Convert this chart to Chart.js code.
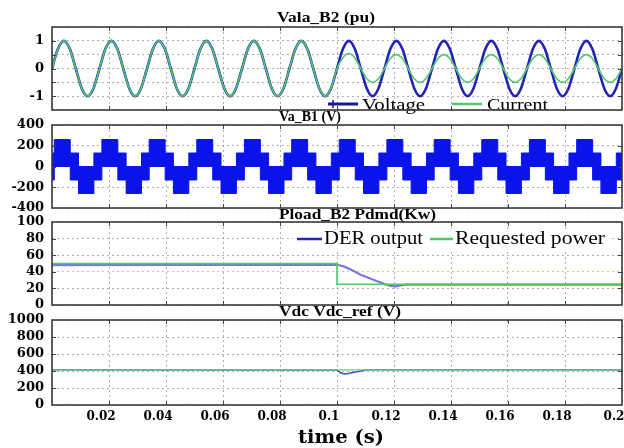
<!DOCTYPE html>
<html><head><meta charset="utf-8">
<script src="https://cdn.jsdelivr.net/npm/chart.js@4.4.1/dist/chart.umd.min.js"></script>
<style>
html,body{margin:0;padding:0;background:#fff;}
#wrap{position:relative;width:624px;height:448px;overflow:hidden;background:#fff;}
canvas{position:absolute;left:0;top:0;}
</style></head><body>
<div id="wrap">
<canvas id="c1" width="624" height="448"></canvas>
<canvas id="c2" width="624" height="448"></canvas>
<canvas id="c3" width="624" height="448"></canvas>
<canvas id="c4" width="624" height="448"></canvas>
</div>
<script>
// ---------------- DATA ----------------
const titles = ['Vala_B2 (pu)', 'Va_B1 (V)', 'Pload_B2 Pdmd(Kw)', 'Vdc Vdc_ref (V)'];
const xAxisTitle = 'time (s)';
const legend1 = ['Voltage', 'Current'];
const legend3 = ['DER output', 'Requested power'];
const panel1TickLabels = [-1, 0, 1];

// Panel 1: sample times (s) and per-unit values
const waveTime = [
  0,0.00208,0.00417,0.00625,0.00833,0.01042,0.0125,0.01458,
  0.01667,0.01875,0.02083,0.02292,0.025,0.02708,0.02917,0.03125,
  0.03333,0.03542,0.0375,0.03958,0.04167,0.04375,0.04583,0.04792,
  0.05,0.05208,0.05417,0.05625,0.05833,0.06042,0.0625,0.06458,
  0.06667,0.06875,0.07083,0.07292,0.075,0.07708,0.07917,0.08125,
  0.08333,0.08542,0.0875,0.08958,0.09167,0.09375,0.09583,0.09792,
  0.1,0.10208,0.10417,0.10625,0.10833,0.11042,0.1125,0.11458,
  0.11667,0.11875,0.12083,0.12292,0.125,0.12708,0.12917,0.13125,
  0.13333,0.13542,0.1375,0.13958,0.14167,0.14375,0.14583,0.14792,
  0.15,0.15208,0.15417,0.15625,0.15833,0.16042,0.1625,0.16458,
  0.16667,0.16875,0.17083,0.17292,0.175,0.17708,0.17917,0.18125,
  0.18333,0.18542,0.1875,0.18958,0.19167,0.19375,0.19583,0.19792,
  0.2];
const voltagePu = [
  0,0.71,1,0.71,0,-0.71,-1,-0.71,
  0,0.71,1,0.71,0,-0.71,-1,-0.71,
  0,0.71,1,0.71,0,-0.71,-1,-0.71,
  0,0.71,1,0.71,0,-0.71,-1,-0.71,
  0,0.71,1,0.71,0,-0.71,-1,-0.71,
  0,0.71,1,0.71,0,-0.71,-1,-0.71,
  0,0.71,1,0.71,0,-0.71,-1,-0.71,
  0,0.71,1,0.71,0,-0.71,-1,-0.71,
  0,0.71,1,0.71,0,-0.71,-1,-0.71,
  0,0.71,1,0.71,0,-0.71,-1,-0.71,
  0,0.71,1,0.71,0,-0.71,-1,-0.71,
  0,0.71,1,0.71,0,-0.71,-1,-0.71,
  0];
const currentPu = [
  0,0.71,1,0.71,0,-0.71,-1,-0.71,
  0,0.71,1,0.71,0,-0.71,-1,-0.71,
  0,0.71,1,0.71,0,-0.71,-1,-0.71,
  0,0.71,1,0.71,0,-0.71,-1,-0.71,
  0,0.71,1,0.71,0,-0.71,-1,-0.71,
  0,0.71,1,0.71,0,-0.71,-1,-0.71,
  0,0.39,0.54,0.38,0,-0.36,-0.5,-0.36,
  0,0.36,0.5,0.36,0,-0.36,-0.5,-0.36,
  0,0.36,0.5,0.36,0,-0.36,-0.5,-0.36,
  0,0.36,0.5,0.36,0,-0.36,-0.5,-0.36,
  0,0.36,0.5,0.36,0,-0.36,-0.5,-0.36,
  0,0.36,0.5,0.36,0,-0.36,-0.5,-0.36,
  0];

// Panel 2: step times (s) of the multilevel waveform band and its upper / lower levels (V)
// (each level holds from its time until the next time)
const vaTime = [0,
  0.0008,0.0064,0.0093,0.0147,
  0.0175,0.0231,0.0260,0.0314,
  0.0341,0.0397,0.0426,0.0480,
  0.0508,0.0564,0.0593,0.0647,
  0.0675,0.0731,0.0760,0.0814,
  0.0841,0.0897,0.0926,0.0980,
  0.1008,0.1064,0.1093,0.1147,
  0.1175,0.1231,0.1260,0.1314,
  0.1341,0.1397,0.1426,0.1480,
  0.1508,0.1564,0.1593,0.1647,
  0.1675,0.1731,0.1760,0.1814,
  0.1841,0.1897,0.1926,0.1980,
  0.2];
const vaUpper = [130,
  260,130,0,130, 260,130,0,130, 260,130,0,130, 260,130,0,130,
  260,130,0,130, 260,130,0,130, 260,130,0,130, 260,130,0,130,
  260,130,0,130, 260,130,0,130, 260,130,0,130, 260,130,0,130,
  130];
const vaLower = [-130,
  0,-130,-260,-130, 0,-130,-260,-130, 0,-130,-260,-130, 0,-130,-260,-130,
  0,-130,-260,-130, 0,-130,-260,-130, 0,-130,-260,-130, 0,-130,-260,-130,
  0,-130,-260,-130, 0,-130,-260,-130, 0,-130,-260,-130, 0,-130,-260,-130,
  -130];

// Panel 3: power (kW)
const derTime = [0, 0.1, 0.1024, 0.1055, 0.1083, 0.1112, 0.1141, 0.1165, 0.1188, 0.1206, 0.1222, 0.124, 0.2];
const derKw   = [48, 48.5, 46.5, 41.5, 36.5, 32.5, 28.5, 25.5, 23, 22.4, 23.5, 24.5, 24.5];
const reqTime = [0, 0.1, 0.1, 0.2];
const reqKw   = [50, 50, 25, 25];

// Panel 4: DC voltage (V)
const vdcTime = [0, 0.1, 0.1012, 0.1026, 0.104, 0.106, 0.108, 0.1097, 0.1105, 0.2];
const vdcV    = [414, 412, 380, 365, 370, 386, 398, 408, 414, 414];
const vrefTime = [0, 0.2];
const vrefV    = [414, 414];

// ---------------- STYLE ----------------
const GRID = 'rgba(110,110,110,0.55)';
const YELLOW_GRID = 'rgba(215,200,60,0.9)';
const TITLE_FONT = 'bold 14.5px "Liberation Serif"';
const LEGEND_FONT17 = '17px "Liberation Serif"';
const LEGEND_FONT18 = '18px "Liberation Serif"';

Chart.defaults.font.family = '"DejaVu Serif", serif';
Chart.defaults.font.weight = 'bold';
Chart.defaults.font.size = 13;
Chart.defaults.color = '#000';

const pts = (xs, ys) => xs.map((x, i) => ({x: x, y: ys[i]}));

function stretchText(ctx, text, x, y, font, width, align) {
  ctx.save();
  ctx.font = font;
  ctx.fillStyle = '#000';
  ctx.textAlign = 'left';
  ctx.textBaseline = 'alphabetic';
  const w = ctx.measureText(text).width;
  const sx = width / w;
  const left = align === 'center' ? x - width / 2 : x;
  ctx.translate(left, y);
  ctx.scale(sx, 1);
  ctx.fillText(text, 0, 0);
  ctx.restore();
}

const near = (a, b) => Math.abs(a - b) < 1e-9;

const decorPlugin = {
  id: 'decor',
  afterDatasetsDraw(chart, args, o) {
    const ctx = chart.ctx;
    const L = o.legend;
    if (!L) return;
    if (L.bg) {
      ctx.save(); ctx.fillStyle = '#fff';
      ctx.fillRect(L.bg[0], L.bg[1], L.bg[2], L.bg[3]);
      ctx.restore();
    }
    L.items.forEach(it => {
      const ds = chart.data.datasets[it.ds];
      ctx.save();
      ctx.strokeStyle = it.color;
      ctx.lineWidth = it.lw;
      ctx.beginPath();
      ctx.moveTo(it.x0, L.y); ctx.lineTo(it.x1, L.y);
      ctx.stroke();
      if (it.cross) {
        ctx.lineWidth = 1.5;
        ctx.beginPath();
        ctx.moveTo(it.cross, L.y - 4); ctx.lineTo(it.cross, L.y + 4);
        ctx.stroke();
      }
      ctx.restore();
      stretchText(ctx, ds.label, it.tx, L.base, L.font, it.tw, 'left');
    });
  },
  afterDraw(chart, args, o) {
    const ctx = chart.ctx;
    const a = chart.chartArea;
    const x = chart.scales.x, y = chart.scales.y;
    ctx.save();
    ctx.strokeStyle = '#444';
    ctx.lineWidth = 1;
    ctx.beginPath();
    x.ticks.forEach(t => {
      if (near(t.value, x.min) || near(t.value, x.max)) return;
      const px = Math.round(x.getPixelForValue(t.value)) + 0.5;
      ctx.moveTo(px, a.top); ctx.lineTo(px, a.top + 4);
      ctx.moveTo(px, a.bottom); ctx.lineTo(px, a.bottom - 4);
    });
    y.ticks.forEach(t => {
      if (near(t.value, y.min) || near(t.value, y.max)) return;
      const py = Math.round(y.getPixelForValue(t.value)) + 0.5;
      ctx.moveTo(a.left, py); ctx.lineTo(a.left + 4, py);
      ctx.moveTo(a.right, py); ctx.lineTo(a.right - 4, py);
    });
    ctx.stroke();
    ctx.strokeStyle = '#3a3a3a';
    ctx.lineWidth = 1.6;
    ctx.strokeRect(a.left, a.top, a.right - a.left, a.bottom - a.top);
    ctx.restore();
    stretchText(ctx, o.title, o.titleX, o.titleY, TITLE_FONT, o.titleW, 'left');
    if (o.xTitle) stretchText(ctx, o.xTitle, o.xTitleX, o.xTitleY, 'bold 18px "DejaVu Serif"', o.xTitleW, 'center');
  }
};

function makePanel(id, top, bottom, datasets, yo, decor, showX) {
  const xh = showX ? 448 - bottom : 0;
  return new Chart(document.getElementById(id), {
    type: 'line',
    data: { datasets: datasets },
    options: {
      responsive: false,
      animation: false,
      events: [],
      layout: { padding: { top: top, bottom: 448 - bottom - xh, left: 0, right: 2 } },
      elements: { point: { radius: 0 } },
      plugins: { legend: { display: false }, tooltip: { enabled: false }, decor: decor },
      scales: {
        x: {
          type: 'linear', min: 0, max: 0.2,
          afterFit(s) { s.height = xh; s.paddingLeft = 0; s.paddingRight = 0; },
          grid: { color: GRID, drawTicks: false, lineWidth: 1 },
          border: { display: false, dash: [2, 3] },
          ticks: {
            display: showX, stepSize: 0.02, padding: 5, labelOffset: -8,
            maxRotation: 0, autoSkip: false, font: { size: 12 },
            callback: v => (near(v, 0) ? '' : String(+v.toFixed(2)))
          }
        },
        y: {
          type: 'linear', min: yo.min, max: yo.max,
          afterFit(s) { s.width = 52; s.paddingTop = 0; s.paddingBottom = 0; },
          grid: { color: yo.gridColor || GRID, drawTicks: false, lineWidth: 1 },
          border: { display: false, dash: [2, 3] },
          ticks: { stepSize: yo.step, padding: 8, autoSkip: false, font: { size: 13 }, callback: yo.cb || (v => String(v)) }
        }
      }
    },
    plugins: [decorPlugin]
  });
}

// Panel 1
makePanel('c1', 27, 110, [
  { label: legend1[1], data: pts(waveTime, currentPu), borderColor: '#52c86e', borderWidth: 1.6, cubicInterpolationMode: 'monotone', fill: false },
  { label: legend1[0], data: pts(waveTime, voltagePu), borderColor: '#2424b4', borderWidth: 2.6, cubicInterpolationMode: 'monotone', fill: false }
], { min: -1.5, max: 1.5, step: 0.5, cb: v => (panel1TickLabels.some(t => near(t, v)) ? String(v) : '') },
{ title: titles[0], titleX: 277, titleY: 21.5, titleW: 98,
  legend: { y: 104, base: 109.5, font: LEGEND_FONT17, items: [
    { ds: 1, x0: 328, x1: 358, tx: 362, tw: 63, lw: 3, color: '#16169a', cross: 333 },
    { ds: 0, x0: 452, x1: 482, tx: 487, tw: 61, lw: 2.5, color: '#52c86e' }
  ] } }, false);

// Panel 2
makePanel('c2', 125, 208, [
  { label: 'Va_B1 upper', data: pts(vaTime, vaUpper), stepped: 'before', borderColor: '#0a14ea', backgroundColor: '#0a14ea', borderWidth: 1, fill: '+1' },
  { label: 'Va_B1 lower', data: pts(vaTime, vaLower), stepped: 'before', borderColor: '#0a14ea', borderWidth: 1, fill: false }
], { min: -400, max: 400, step: 200 },
{ title: titles[1], titleX: 279, titleY: 120.5, titleW: 62 }, false);

// Panel 3
makePanel('c3', 222, 305, [
  { label: legend3[1], data: pts(reqTime, reqKw), borderColor: '#4ccc62', borderWidth: 1.6, fill: false },
  { label: legend3[0], data: pts(derTime, derKw), borderColor: '#7a78e6', borderWidth: 2.2, fill: false }
], { min: 0, max: 100, step: 20, gridColor: c => (c.tick && near(c.tick.value, 40) ? YELLOW_GRID : GRID) },
{ title: titles[2], titleX: 279, titleY: 219, titleW: 157,
  legend: { y: 239, base: 244.3, font: LEGEND_FONT18, bg: [293, 229, 317, 20], items: [
    { ds: 1, x0: 297, x1: 322, tx: 324, tw: 99, lw: 2.5, color: '#2626c8' },
    { ds: 0, x0: 430, x1: 453, tx: 455, tw: 150, lw: 2.5, color: '#48cc66' }
  ] } }, false);

// Panel 4
makePanel('c4', 320, 405, [
  { label: 'Vdc_ref', data: pts(vrefTime, vrefV), borderColor: '#6ad27a', borderWidth: 1.3, fill: false },
  { label: 'Vdc', data: pts(vdcTime, vdcV), borderColor: '#4a4ad0', borderWidth: 1.6, fill: false }
], { min: 0, max: 1000, step: 200 },
{ title: titles[3], titleX: 279, titleY: 316, titleW: 122,
  xTitle: xAxisTitle, xTitleX: 341, xTitleY: 443, xTitleW: 86 }, true);
</script>
</body></html>
